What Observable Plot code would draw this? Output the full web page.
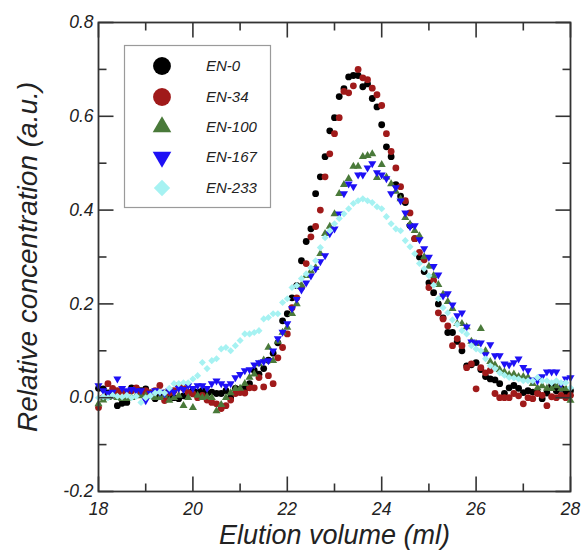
<!DOCTYPE html>
<html><head><meta charset="utf-8">
<script src="https://cdn.jsdelivr.net/npm/d3@7"></script>
<script src="https://cdn.jsdelivr.net/npm/@observablehq/plot@0.6"></script>
<style>
body{margin:0;background:#fff;}
#chart{width:582px;height:550px;}
</style></head><body><div id="chart"></div>
<script>
const volume = [18.0,18.1,18.2,18.3,18.4,18.5,18.6,18.7,18.8,18.9,
19.0,19.1,19.2,19.3,19.4,19.5,19.6,19.7,19.8,19.9,
20.0,20.1,20.2,20.3,20.4,20.5,20.6,20.7,20.8,20.9,
21.0,21.1,21.2,21.3,21.4,21.5,21.6,21.7,21.8,21.9,
22.0,22.1,22.2,22.3,22.4,22.5,22.6,22.7,22.8,22.9,
23.0,23.1,23.2,23.3,23.4,23.5,23.6,23.7,23.8,23.9,
24.0,24.1,24.2,24.3,24.4,24.5,24.6,24.7,24.8,24.9,
25.0,25.1,25.2,25.3,25.4,25.5,25.6,25.7,25.8,25.9,
26.0,26.1,26.2,26.3,26.4,26.5,26.6,26.7,26.8,26.9,
27.0,27.1,27.2,27.3,27.4,27.5,27.6,27.7,27.8,27.9,28.0];

const en0 = [0.020,0.019,0.010,0.005,-0.017,-0.012,-0.010,0.021,0.020,0.015,
0.019,0.010,-0.002,0.005,0.010,0.004,0.000,-0.002,0.004,0.011,
0.015,0.012,0.015,0.009,0.012,0.009,0.009,0.015,0.000,0.020,
0.018,0.019,0.030,0.058,0.050,0.062,0.080,0.095,0.117,0.164,
0.179,0.213,0.239,0.292,0.333,0.360,0.435,0.471,0.514,0.569,
0.597,0.642,0.659,0.684,0.687,0.687,0.663,0.669,0.638,0.620,
0.582,0.535,0.514,0.454,0.430,0.416,0.367,0.339,0.300,0.269,
0.245,0.224,0.200,0.170,0.139,0.139,0.120,0.100,0.068,0.070,
0.075,0.060,0.045,0.040,0.038,0.030,0.009,0.021,0.026,0.020,
0.011,0.015,0.012,0.011,-0.002,0.010,0.026,0.015,0.020,0.012,0.015];

const en34 = [-0.021,0.000,0.030,0.020,0.015,0.010,0.012,0.015,0.021,0.010,
0.015,0.010,0.015,0.026,-0.006,0.010,0.015,0.026,0.020,0.011,
0.008,0.000,0.005,-0.005,-0.010,-0.013,-0.023,-0.017,-0.005,0.009,
0.011,0.010,0.021,0.021,0.043,0.023,0.047,0.030,0.085,0.107,
0.136,0.192,0.213,0.235,0.286,0.343,0.365,0.400,0.471,0.520,
0.563,0.597,0.653,0.650,0.665,0.700,0.682,0.678,0.660,0.646,
0.623,0.563,0.525,0.490,0.450,0.420,0.394,0.339,0.310,0.294,
0.235,0.250,0.181,0.168,0.153,0.111,0.126,0.111,0.064,0.072,
0.019,0.064,0.053,0.058,0.009,0.000,0.000,0.000,0.009,0.004,
-0.013,0.000,-0.002,0.009,0.005,-0.017,0.002,0.000,0.005,0.000,0.005];

const en100 = [-0.013,-0.005,0.000,0.005,0.000,-0.002,-0.002,0.000,0.005,0.004,
0.004,0.002,0.000,0.000,0.005,-0.006,0.000,0.005,-0.017,0.000,
-0.021,0.005,0.000,0.002,0.000,-0.028,-0.015,0.000,0.010,0.019,
0.020,0.030,0.043,0.050,0.072,0.080,0.107,0.079,0.120,0.139,
0.150,0.179,0.200,0.240,0.260,0.270,0.277,0.307,0.350,0.365,
0.392,0.435,0.454,0.467,0.493,0.493,0.514,0.516,0.520,0.469,
0.497,0.470,0.456,0.440,0.424,0.384,0.370,0.356,0.345,0.300,
0.280,0.260,0.241,0.220,0.205,0.190,0.158,0.158,0.151,0.120,
0.115,0.147,0.100,0.077,0.070,0.060,0.055,0.049,0.050,0.045,
0.045,0.043,0.030,0.021,0.025,0.020,0.019,0.025,0.019,0.019,-0.006];

const en167 = [0.026,0.015,0.010,0.012,0.040,0.020,0.015,0.018,0.015,0.015,
-0.006,0.010,0.015,0.012,0.009,0.015,0.012,0.020,0.018,0.026,
0.020,0.026,0.026,0.020,0.030,0.036,0.030,0.025,0.030,0.043,
0.050,0.058,0.060,0.070,0.075,0.077,0.079,0.100,0.126,0.140,
0.158,0.190,0.210,0.230,0.245,0.260,0.275,0.290,0.303,0.350,
0.360,0.392,0.435,0.456,0.450,0.475,0.475,0.490,0.499,0.480,
0.475,0.467,0.435,0.448,0.420,0.394,0.365,0.367,0.337,0.318,
0.300,0.280,0.262,0.217,0.222,0.198,0.175,0.181,0.151,0.119,
0.117,0.117,0.092,0.113,0.090,0.090,0.072,0.070,0.075,0.083,
0.065,0.058,0.038,0.036,0.045,0.055,0.055,0.055,0.030,0.040,0.043];

const en233 = [0.000,0.002,0.000,0.005,0.003,0.002,0.005,0.000,0.003,-0.010,
0.000,0.004,0.010,0.012,0.010,0.020,0.030,0.030,0.032,0.032,
0.040,0.047,0.075,0.062,0.079,0.083,0.104,0.107,0.100,0.111,
0.122,0.136,0.136,0.139,0.143,0.168,0.171,0.179,0.179,0.203,
0.211,0.235,0.239,0.254,0.264,0.277,0.292,0.320,0.341,0.356,
0.371,0.382,0.392,0.403,0.414,0.420,0.424,0.420,0.416,0.407,
0.403,0.386,0.371,0.360,0.356,0.335,0.322,0.307,0.286,0.275,
0.260,0.240,0.211,0.192,0.181,0.166,0.156,0.143,0.136,0.111,
0.104,0.100,0.083,0.068,0.062,0.053,0.048,0.043,0.042,0.040,
0.036,0.036,0.036,0.043,0.036,0.036,0.032,0.036,0.032,0.032,0.021];

const seriesNames = ["EN-0","EN-34","EN-100","EN-167","EN-233"];
const seriesColors = ["#000000","#a01a1a","#4a7a3a","#1e10f5","#a6f2f2"];
const xTicksMajor = [18,20,22,24,26,28];
const xTicksMinor = [19,21,23,25,27];
const yTicksMajor = [-0.2,0.0,0.2,0.4,0.6,0.8];
const yTicksMinor = [-0.1,0.1,0.3,0.5,0.7];
const xTitle = "Elution volume (ml)";
const yTitle = "Relative concentration (a.u.)";

const sqrt3 = Math.sqrt(3);
const triangleDown = {
  draw(context, size) {
    const y = -Math.sqrt(size / (sqrt3 * 3));
    context.moveTo(0, -y * 2);
    context.lineTo(-sqrt3 * y, y);
    context.lineTo(sqrt3 * y, y);
    context.closePath();
  }
};
const seriesSymbols = [d3.symbolCircle, d3.symbolCircle, d3.symbolTriangle, triangleDown, d3.symbolDiamond2];
const seriesR = [3.4, 3.4, 3.0, 3.0, 3.2];
const allValues = [en0, en34, en100, en167, en233];
const rows = allValues.map(vals => volume.map((v, i) => ({volume: v, conc: vals[i]})));

// inward tick marks: thin filled bars drawn as dot symbols anchored on the frame edges
const tickSymbol = (len, dir) => ({
  draw(context) {
    const w = 0.8;
    let x0, x1, y0, y1;
    if (dir === "up")    { x0 = -w; x1 = w; y0 = -len; y1 = 0; }
    if (dir === "down")  { x0 = -w; x1 = w; y0 = 0; y1 = len; }
    if (dir === "right") { x0 = 0; x1 = len; y0 = -w; y1 = w; }
    if (dir === "left")  { x0 = -len; x1 = 0; y0 = -w; y1 = w; }
    context.moveTo(x0, y0);
    context.lineTo(x1, y0);
    context.lineTo(x1, y1);
    context.lineTo(x0, y1);
    context.closePath();
  }
});
const xTickMarks = (data, len, side) => Plot.dot(data, {
  x: d => d, frameAnchor: side, r: 3, symbol: tickSymbol(len, side === "bottom" ? "up" : "down"),
  fill: "#333", stroke: "none"
});
const yTickMarks = (data, len, side) => Plot.dot(data, {
  y: d => d, frameAnchor: side, r: 3, symbol: tickSymbol(len, side === "left" ? "right" : "left"),
  fill: "#333", stroke: "none"
});

const labelCommon = {label: null, tickSize: 0, fontSize: 17.5, fontStyle: "italic", color: "#222"};

const svg = Plot.plot({
  width: 582, height: 550,
  marginLeft: 98, marginRight: 12, marginTop: 22, marginBottom: 59,
  style: {fontFamily: "'Liberation Sans', Arial, sans-serif", background: "#fff", overflow: "visible"},
  x: {domain: [18, 28]},
  y: {domain: [-0.2, 0.8]},
  marks: [
    ...rows.map((data, k) => Plot.dot(data, {
      x: "volume", y: "conc", r: seriesR[k], symbol: seriesSymbols[k],
      fill: seriesColors[k], stroke: "none"
    })),
    Plot.frame({stroke: "#333", strokeWidth: 1.8}),
    xTickMarks(xTicksMajor, 15, "bottom"),
    xTickMarks(xTicksMinor, 8, "bottom"),
    xTickMarks(xTicksMajor, 15, "top"),
    xTickMarks(xTicksMinor, 8, "top"),
    yTickMarks(yTicksMajor, 15, "left"),
    yTickMarks(yTicksMinor, 8, "left"),
    yTickMarks(yTicksMajor, 15, "right"),
    yTickMarks(yTicksMinor, 8, "right"),
    Plot.axisX(xTicksMajor, {...labelCommon, anchor: "bottom", tickPadding: 11, tickFormat: d => String(d)}),
    Plot.axisY(yTicksMajor, {...labelCommon, anchor: "left", tickPadding: 5, tickFormat: d => d.toFixed(1)}),
    Plot.text([xTitle], {frameAnchor: "bottom", lineAnchor: "middle", textAnchor: "middle", dy: 44, fontSize: 27, fontStyle: "italic", fill: "#222"}),
    Plot.text([yTitle], {frameAnchor: "left", lineAnchor: "middle", textAnchor: "middle", rotate: -90, dx: -70, fontSize: 28, fontStyle: "italic", fill: "#222"})
  ]
});

// Legend box drawn inside the plot area
const leg = d3.select(svg).append("g").attr("class", "legend");
leg.append("rect")
  .attr("x", 124.5).attr("y", 45.5).attr("width", 146).attr("height", 162)
  .attr("fill", "#fff").attr("stroke", "#9a9a9a").attr("stroke-width", 1.2);
const legRowY = [66, 97, 127, 157, 188];
const legSizes = [250, 250, 150, 150, 170];
seriesNames.forEach((name, k) => {
  leg.append("path")
    .attr("transform", `translate(162,${legRowY[k]})`)
    .attr("d", d3.symbol(seriesSymbols[k], legSizes[k])())
    .attr("fill", seriesColors[k]);
  leg.append("text")
    .attr("x", 206).attr("y", legRowY[k])
    .attr("dy", "0.35em")
    .attr("text-anchor", "start")
    .attr("font-size", 15).attr("font-style", "italic").attr("fill", "#222")
    .text(name);
});

document.getElementById("chart").appendChild(svg);
</script>
</body></html>
